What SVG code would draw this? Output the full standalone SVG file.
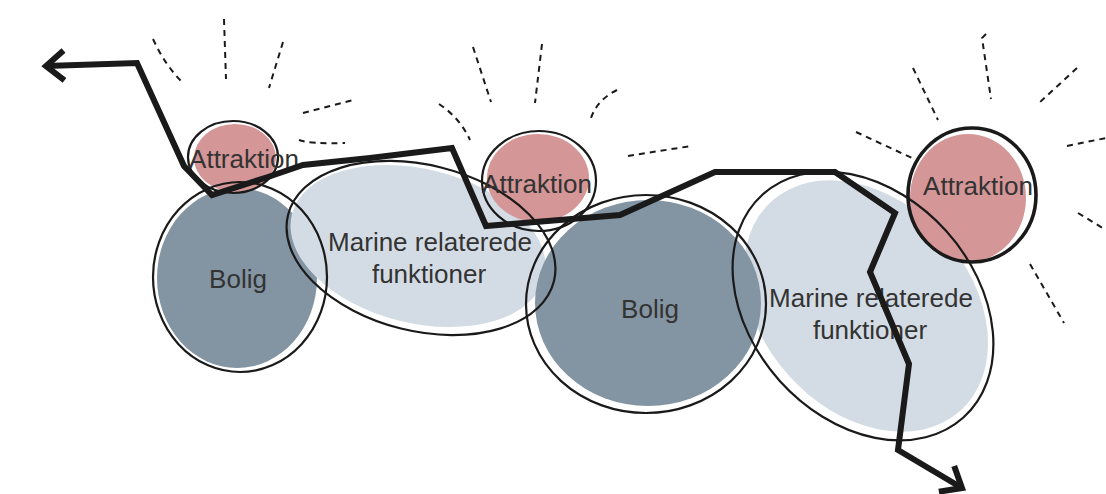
<svg xmlns="http://www.w3.org/2000/svg" width="1106" height="494" viewBox="0 0 1106 494">
<style>
.pink{fill:#d59697}
.dark{fill:#8394a2}
.light{fill:#d3dce4}
.ol{fill:none;stroke:#1a1a1a;stroke-width:2.2}
.ol3{fill:none;stroke:#1a1a1a;stroke-width:3.6}
.lbl{font-family:"Liberation Sans",Arial,sans-serif;font-size:26px;fill:#333;text-anchor:middle}
.ray{fill:none;stroke:#1a1a1a;stroke-width:2;stroke-dasharray:6 5}
.route{fill:none;stroke:#1a1a1a;stroke-width:6;stroke-linejoin:miter}
</style>
<defs>
<marker id="chev" markerUnits="userSpaceOnUse" markerWidth="40" markerHeight="40" viewBox="-24 -20 30 40" refX="0" refY="0" orient="auto-start-reverse" overflow="visible">
<path d="M-18,-15 L0,0 L-18,15" fill="none" stroke="#1a1a1a" stroke-width="6" stroke-linejoin="miter"/>
</marker>
</defs>
<rect width="1106" height="494" fill="#fff"/>
<g id="rays">
<path class="ray" d="M153,39 Q165,65 182,82"/>
<path class="ray" d="M224,19 L226,79"/>
<path class="ray" d="M283,42 L269,88"/>
<path class="ray" d="M303,113 L353,100"/>
<path class="ray" d="M299,140 Q310,144 345,143"/>
<path class="ray" d="M439,104 Q460,118 470,140"/>
<path class="ray" d="M473,47 L491,102"/>
<path class="ray" d="M542,44 L535,103"/>
<path class="ray" d="M617,90 Q597,100 591,118"/>
<path class="ray" d="M628,156 L691,146"/>
<path class="ray" d="M856,132 L912,158"/>
<path class="ray" d="M913,68 L938,120"/>
<path class="ray" d="M986,34 L982,38 L991,99"/>
<path class="ray" d="M1077,68 L1039,103"/>
<path class="ray" d="M1067,146 L1106,138"/>
<path class="ray" d="M1078,213 L1106,230"/>
<path class="ray" d="M1030,264 L1064,323"/>
</g>
<g id="fills">
<ellipse class="dark" cx="237" cy="278" rx="80" ry="90"/>
<ellipse class="light" cx="418" cy="246" rx="130" ry="77" transform="rotate(14 418 246)"/>
<ellipse class="light" cx="866" cy="306" rx="141" ry="104" transform="rotate(48 866 306)"/>
<ellipse class="dark" cx="648" cy="303" rx="113" ry="103"/>
<ellipse class="pink" cx="235" cy="158" rx="41" ry="34"/>
<ellipse class="pink" cx="538" cy="178" rx="51" ry="44"/>
<ellipse class="pink" cx="968" cy="198" rx="58" ry="64"/>
</g>
<g id="bolig1">
<ellipse class="ol" cx="240" cy="277" rx="87" ry="95"/>
<text class="lbl" x="238" y="288">Bolig</text>
</g>
<g id="marine1">
<ellipse class="ol" cx="421" cy="248" rx="137" ry="83" transform="rotate(14 421 248)"/>
<text class="lbl" x="430" y="251">Marine relaterede</text>
<text class="lbl" x="429" y="283">funktioner</text>
</g>
<g id="bolig2">
<ellipse class="ol" cx="646" cy="304" rx="120" ry="109"/>
<text class="lbl" x="650" y="318">Bolig</text>
</g>
<g id="marine2">
<ellipse class="ol" cx="863" cy="306" rx="150" ry="112" transform="rotate(48 863 306)"/>
<text class="lbl" x="871" y="307">Marine relaterede</text>
<text class="lbl" x="870" y="339">funktioner</text>
</g>
<g id="attraktion1">
<ellipse class="ol" cx="233" cy="157" rx="45" ry="36"/>
<text class="lbl" x="244" y="168">Attraktion</text>
</g>
<g id="attraktion2">
<ellipse class="ol" cx="539" cy="181" rx="57" ry="50"/>
<text class="lbl" x="537" y="193">Attraktion</text>
</g>
<g id="attraktion3">
<ellipse class="ol3" cx="972" cy="195" rx="64" ry="67"/>
<text class="lbl" x="978" y="195">Attraktion</text>
</g>
<g id="connectors">
<path class="route" marker-start="url(#chev)" marker-end="url(#chev)" d="M46,66 L137,63 L184,166 L212,195 L268,177 L303,165 L370,158 L452,148 L486,226 L620,215 L715,172 L835,172 L895,213 L870,272 L909,364 L898,450 L962,488"/>
</g>
</svg>
